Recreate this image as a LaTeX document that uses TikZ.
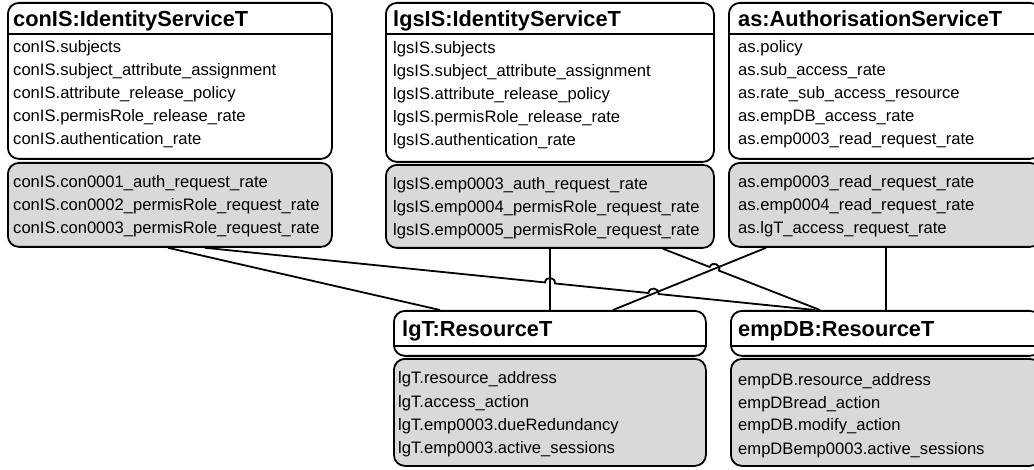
\documentclass[tikz,border=0pt]{standalone}
\usepackage{fontspec}
\setmainfont{Liberation Sans}
\usetikzlibrary{calc}

\definecolor{attrgray}{RGB}{217,217,217}

\begin{document}
\begin{tikzpicture}[x=1pt,y=-1pt,
  box/.style={draw, line width=1.8pt, rounded corners=11pt, fill=white, inner sep=0pt, anchor=north west},
  attrbox/.style={box, fill=attrgray},
  title/.style={anchor=base west, inner sep=0pt, font=\fontsize{21.8}{26}\selectfont\bfseries},
  attr/.style={anchor=base west, inner sep=0pt, font=\fontsize{16.6}{23}\selectfont},
  sep/.style={line width=1.2pt},
  link/.style={line width=1.8pt},
  jump/.style={bend left=90, looseness=1.7}]

\useasboundingbox (0,0) rectangle (1034,470);

% --- conIS ---
\node[box, minimum width=324pt, minimum height=156pt] (conISh) at (7,2) {};
\draw[sep] (conISh.west |- 0,34) -- (conISh.east |- 0,34);
\node[title] (conISt) at (13,27) {conIS:IdentityServiceT};
\foreach \txt [count=\i] in {conIS.subjects, conIS.subject\_attribute\_assignment,
    conIS.attribute\_release\_policy, conIS.permisRole\_release\_rate, conIS.authentication\_rate}
  \node[attr] (conISa\i) at (13,{30+23*\i}) {\txt};
\node[attrbox, minimum width=324pt, minimum height=84pt] (conISb) at (7,162) {};
\foreach \txt [count=\i] in {conIS.con0001\_auth\_request\_rate, conIS.con0002\_permisRole\_request\_rate,
    conIS.con0003\_permisRole\_request\_rate}
  \node[attr] (conISg\i) at (13,{165+23*\i}) {\txt};

% --- lgsIS ---
\node[box, minimum width=328pt, minimum height=159pt] (lgsISh) at (385,2) {};
\draw[sep] (lgsISh.west |- 0,34) -- (lgsISh.east |- 0,34);
\node[title] (lgsISt) at (393,27) {lgsIS:IdentityServiceT};
\foreach \txt [count=\i] in {lgsIS.subjects, lgsIS.subject\_attribute\_assignment,
    lgsIS.attribute\_release\_policy, lgsIS.permisRole\_release\_rate, lgsIS.authentication\_rate}
  \node[attr] (lgsISa\i) at (393,{31+23*\i}) {\txt};
\node[attrbox, minimum width=328pt, minimum height=83pt] (lgsISb) at (385,164) {};
\foreach \txt [count=\i] in {lgsIS.emp0003\_auth\_request\_rate, lgsIS.emp0004\_permisRole\_request\_rate,
    lgsIS.emp0005\_permisRole\_request\_rate}
  \node[attr] (lgsISg\i) at (393,{167+23*\i}) {\txt};

% --- as ---
\node[box, minimum width=312pt, minimum height=156pt] (ash) at (728,2) {};
\draw[sep] (ash.west |- 0,34) -- (ash.east |- 0,34);
\node[title] (ast) at (738,27) {as:AuthorisationServiceT};
\foreach \txt [count=\i] in {as.policy, as.sub\_access\_rate, as.rate\_sub\_access\_resource,
    as.empDB\_access\_rate, as.emp0003\_read\_request\_rate}
  \node[attr] (asa\i) at (738,{30+23*\i}) {\txt};
\node[attrbox, minimum width=312pt, minimum height=84pt] (asb) at (728,162) {};
\foreach \txt [count=\i] in {as.emp0003\_read\_request\_rate, as.emp0004\_read\_request\_rate,
    as.lgT\_access\_request\_rate}
  \node[attr] (asg\i) at (738,{165+23*\i}) {\txt};

% --- lgT ---
\node[box, minimum width=312pt, minimum height=45pt] (lgTh) at (393,310) {};
\draw[sep] (lgTh.west |- 0,346) -- (lgTh.east |- 0,346);
\node[title] (lgTt) at (402,337) {lgT:ResourceT};
\node[attrbox, minimum width=312pt, minimum height=107pt] (lgTb) at (393,358) {};
\foreach \txt [count=\i] in {lgT.resource\_address, lgT.access\_action,
    lgT.emp0003.dueRedundancy, lgT.emp0003.active\_sessions}
  \node[attr] (lgTg\i) at (398,{361+23*\i}) {\txt};

% --- empDB ---
\node[box, minimum width=310pt, minimum height=45pt] (empDBh) at (730,310) {};
\draw[sep] (empDBh.west |- 0,346) -- (empDBh.east |- 0,346);
\node[title] (empDBt) at (738,337) {empDB:ResourceT};
\node[attrbox, minimum width=310pt, minimum height=107pt] (empDBb) at (730,358) {};
\foreach \txt [count=\i] in {empDB.resource\_address, empDBread\_action,
    empDB.modify\_action, empDBemp0003.active\_sessions}
  \node[attr] (empDBg\i) at (738,{362+23*\i}) {\txt};

% --- Links ---
\coordinate (c2s) at (205,0 |- conISb.south);
\coordinate (c2e) at (815,0 |- empDBh.north);
\coordinate (v1s) at (550,0 |- lgsISb.south);
\coordinate (v1e) at (550,0 |- lgTh.north);
\coordinate (xs) at (663,0 |- lgsISb.south);
\coordinate (xe) at (820,0 |- empDBh.north);
\coordinate (ys) at (766,0 |- asb.south);
\coordinate (ye) at (613,0 |- lgTh.north);
\coordinate (j1) at (intersection of c2s--c2e and v1s--v1e);
\coordinate (j2) at (intersection of c2s--c2e and ys--ye);
\coordinate (j3) at (intersection of xs--xe and ys--ye);

\draw[link] (168,0 |- conISb.south) -- (440,0 |- lgTh.north);
\draw[link] (v1s) -- (v1e);
\draw[link] (ys) -- (ye);
\draw[link] (886,0 |- asb.south) -- (886,0 |- empDBh.north);
\draw[link] (c2s) -- ($(j1)!5pt!(c2s)$) to[jump] ($(j1)!5pt!(c2e)$)
  -- ($(j2)!5pt!(c2s)$) to[jump] ($(j2)!5pt!(c2e)$) -- (c2e);
\draw[link] (xs) -- ($(j3)!5pt!(xs)$) to[jump] ($(j3)!5pt!(xe)$) -- (xe);

\end{tikzpicture}
\end{document}
